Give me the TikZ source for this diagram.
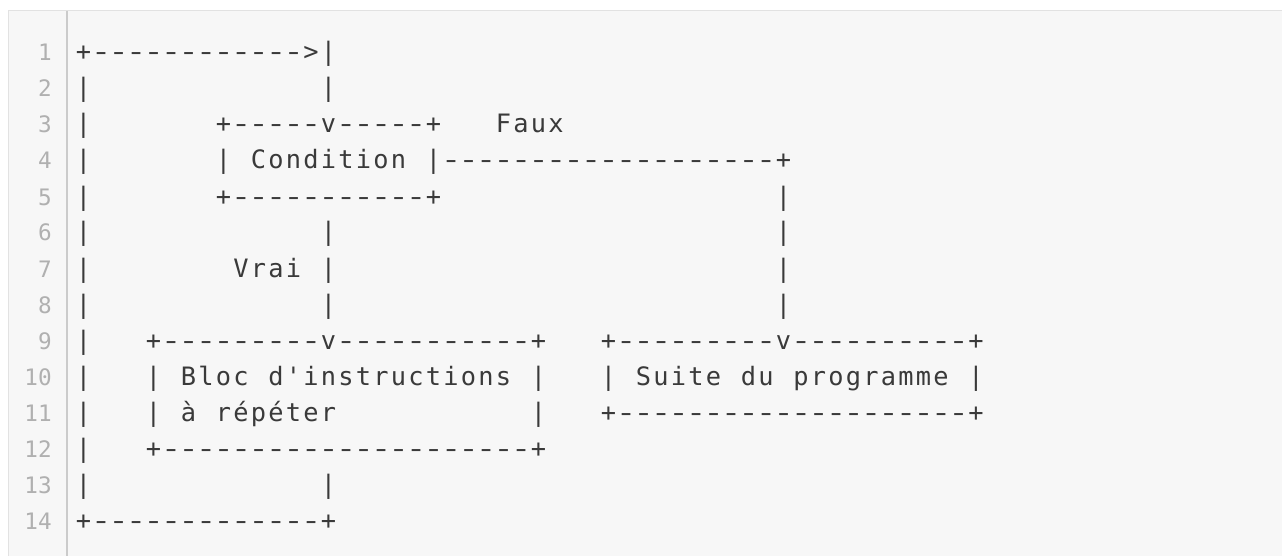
\documentclass[tikz,border=0pt]{standalone}
\usepackage{fontspec}
\usepackage{graphicx}
\setmonofont{DejaVu Sans Mono}
\newlength\cw
\setlength\cw{13.125pt}
\ExplSyntaxOn
\NewDocumentCommand\asc{m}{
  \str_map_inline:nn {#1}
    {
      \str_if_eq:nnTF {##1} {.}
        { \hspace*{\cw} }
        {
          \str_if_eq:nnTF {##1} {-}
            { \makebox[\cw][c]{\scalebox{1.35}[1]{-}} }
            { \makebox[\cw][c]{##1} }
        }
    }
}
\ExplSyntaxOff
\definecolor{codebg}{HTML}{F7F7F7}
\definecolor{codeborder}{HTML}{E2E2E2}
\definecolor{gutter}{HTML}{CBCBCB}
\definecolor{codetext}{HTML}{3A3A3A}
\definecolor{numtext}{HTML}{B0B0B0}
\tikzset{
  codeline/.style={anchor=base west, inner sep=0pt, text=codetext,
    font=\ttfamily\fontsize{19pt}{22pt}\selectfont},
  numline/.style={anchor=base east, inner sep=0pt, text=numtext,
    font=\ttfamily\fontsize{17pt}{20pt}\selectfont}
}
\begin{document}
\begin{tikzpicture}[x=0.75pt,y=-0.75pt]
\useasboundingbox (0,0) rectangle (1282,556);
\fill[white] (0,0) rectangle (1282,556);
\fill[codebg] (8,11) rectangle (1282,556);
\draw[codeborder, line width=0.75pt] (8,556) -- (8,11) -- (1282,11);
\draw[gutter, line width=1.5pt] (67,11) -- (67,556);
\foreach \k in {1,...,14}{
  \node[numline] (n\k) at (52,{61+36*(\k-1)}) {\k};
}
\node[codeline] (l1)  at (74.55, 61) {\asc{+------------>|}};
\node[codeline] (l2)  at (74.55, 97) {\asc{|.............|}};
\node[codeline] (l3)  at (74.55,133) {\asc{|.......+-----v-----+...Faux}};
\node[codeline] (l4)  at (74.55,169) {\asc{|.......| Condition |-------------------+}};
\node[codeline] (l5)  at (74.55,205) {\asc{|.......+-----------+...................|}};
\node[codeline] (l6)  at (74.55,241) {\asc{|.............|.........................|}};
\node[codeline] (l7)  at (74.55,277) {\asc{|........Vrai |.........................|}};
\node[codeline] (l8)  at (74.55,313) {\asc{|.............|.........................|}};
\node[codeline] (l9)  at (74.55,349) {\asc{|...+---------v-----------+...+---------v----------+}};
\node[codeline] (l10) at (74.55,385) {\asc{|...| Bloc d'instructions |...| Suite du programme |}};
\node[codeline] (l11) at (74.55,421) {\asc{|...| à répéter...........|...+--------------------+}};
\node[codeline] (l12) at (74.55,457) {\asc{|...+---------------------+}};
\node[codeline] (l13) at (74.55,493) {\asc{|.............|}};
\node[codeline] (l14) at (74.55,529) {\asc{+-------------+}};
\end{tikzpicture}
\end{document}
